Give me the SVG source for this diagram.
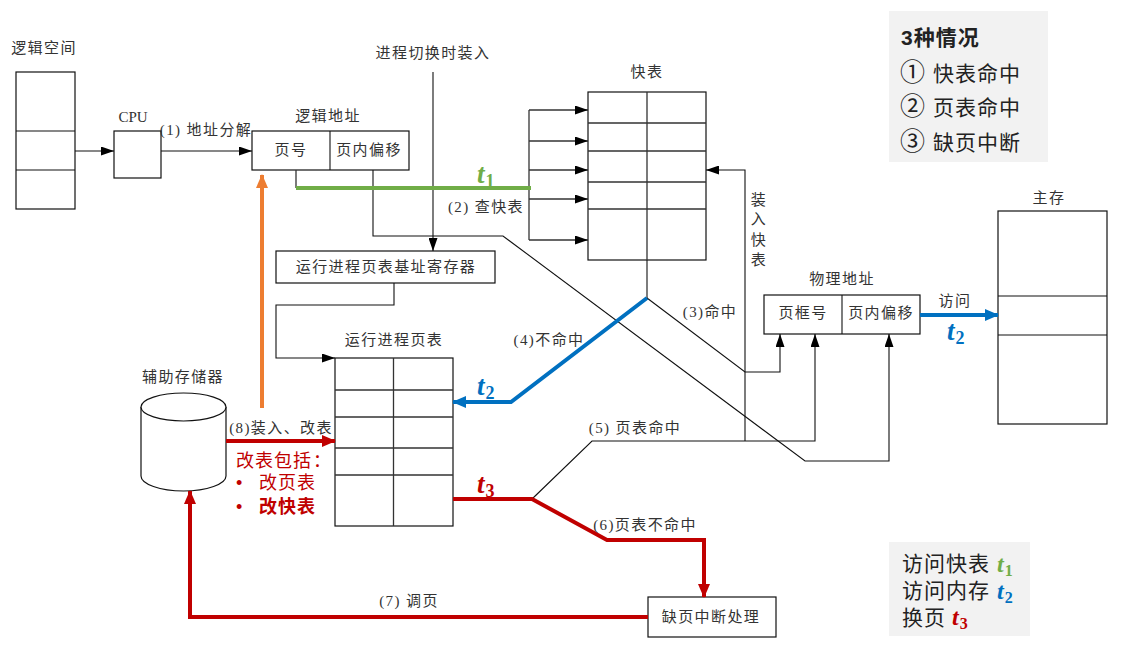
<svg xmlns="http://www.w3.org/2000/svg" width="1122" height="646" viewBox="0 0 1122 646">
<style>
text{font-family:"Liberation Serif","Noto Sans CJK SC",serif;font-size:15px;letter-spacing:1.400px;fill:#333;text-anchor:middle}
.box{fill:#fff;stroke:#111;stroke-width:1.2}
.ln{fill:none;stroke:#111;stroke-width:1.1}
.gr{fill:none;stroke:#333;stroke-width:1.3}
.ar{marker-end:url(#a)}
.pan{fill:#f2f2f2}
.big{font-family:"Liberation Sans","Noto Sans CJK SC",sans-serif;font-size:21px;letter-spacing:1px;text-anchor:start;fill:#222}
.num{font-size:25px;letter-spacing:0}
.red{font-family:"Liberation Sans","Noto Sans CJK SC",sans-serif;font-size:18px;letter-spacing:1px;text-anchor:start;fill:#c00000}
.t{font-style:italic;font-weight:bold;font-size:27px;letter-spacing:0;text-anchor:start}
.s{font-size:18px;font-style:normal}
.sg{font-size:16px;font-style:normal}
</style>
<defs>
<marker id="a" markerUnits="userSpaceOnUse" markerWidth="13" markerHeight="9" refX="13" refY="4.500" orient="auto"><path d="M0 0L13 4.500L0 9Z" fill="#000"/></marker>
<marker id="r" markerUnits="userSpaceOnUse" markerWidth="14" markerHeight="12" refX="13" refY="6" orient="auto"><path d="M0 0L14 6L0 12Z" fill="#c00000"/></marker>
<marker id="b" markerUnits="userSpaceOnUse" markerWidth="14" markerHeight="12" refX="13" refY="6" orient="auto"><path d="M0 0L14 6L0 12Z" fill="#0070c0"/></marker>
<marker id="o" markerUnits="userSpaceOnUse" markerWidth="14" markerHeight="12" refX="13" refY="6" orient="auto"><path d="M0 0L14 6L0 12Z" fill="#ed7d31"/></marker>
</defs>

<g id="logical-space"><text x="44" y="53">逻辑空间</text><rect class="box" x="16" y="72" width="59" height="137"/><path class="ln" d="M16 131H75M16 170H75"/></g>
<g id="cpu"><text x="133" y="122" style="letter-spacing:0">CPU</text><rect class="box" x="114" y="131" width="47" height="47"/></g>
<g id="logical-address"><text x="328" y="121">逻辑地址</text><rect class="box" x="252" y="131" width="157" height="39"/><path class="ln" d="M330 131V170"/><text x="291" y="155">页号</text><text x="369" y="155">页内偏移</text></g>
<g id="tlb"><text x="647" y="77">快表</text><rect class="box" x="588" y="92" width="118" height="168"/><path class="gr" d="M647 92V260M588 123H706M588 151H706M588 182H706M588 209H706"/></g>
<g id="base-register"><rect class="box" x="276" y="251" width="219" height="32"/><text x="386" y="272">运行进程页表基址寄存器</text></g>
<g id="page-table"><text x="394" y="345">运行进程页表</text><rect class="box" x="335" y="358" width="118" height="168"/><path class="gr" d="M393.500 358V526M335 390H453M335 417H453M335 448H453M335 475H453"/></g>
<g id="aux-storage"><text x="183" y="382">辅助存储器</text><path class="box" d="M141 407V476C141 484 160 491 183.500 491S226 484 226 476V407"/><ellipse class="box" cx="183.500" cy="407" rx="42.500" ry="14"/></g>
<g id="physical-address"><text x="842" y="284">物理地址</text><rect class="box" x="764" y="295" width="156" height="39"/><path class="ln" d="M842 295V334"/><text x="803" y="318">页框号</text><text x="881" y="318">页内偏移</text></g>
<g id="main-memory"><text x="1049" y="203">主存</text><rect class="box" x="998" y="211" width="109" height="213"/><path class="ln" d="M998 296H1107M998 335H1107"/></g>
<g id="page-fault"><rect class="box" x="648" y="597" width="128" height="40"/><text x="711" y="622">缺页中断处理</text></g>

<g id="connectors">
<path class="ln ar" d="M75 151H114"/>
<path class="ln ar" d="M161 151H252"/>
<path class="ln ar" d="M433 72V251"/>
<path class="gr" d="M296 170V188"/>
<path class="gr" d="M529 110V240"/>
<path class="gr ar" d="M529 110H588"/><path class="gr ar" d="M529 141H588"/><path class="gr ar" d="M529 170H588"/><path class="gr ar" d="M529 199H588"/><path class="gr ar" d="M529 240H588"/>
<path class="ln ar" d="M373 170V236H503L805 461H889V334"/>
<path class="ln ar" d="M394 283V305H276V358H335"/>
<path class="ln" d="M647 260V298"/>
<path class="ln ar" d="M647 298L745 372H780V334"/>
<path class="ln ar" d="M745 441V170H706"/>
<path class="ln ar" d="M532 499L592 441H815V334"/>
<path d="M296 188H531" fill="none" stroke="#70ad47" stroke-width="4"/>
<path d="M262 408V175" fill="none" stroke="#ed7d31" stroke-width="4" marker-end="url(#o)"/>
<path d="M647 298L511 402H453" fill="none" stroke="#0070c0" stroke-width="4" marker-end="url(#b)"/>
<path d="M920 315H998" fill="none" stroke="#0070c0" stroke-width="4" marker-end="url(#b)"/>
<path d="M226 441H335" fill="none" stroke="#c00000" stroke-width="4" marker-end="url(#r)"/>
<path d="M453 499H532L607 540H704V597" fill="none" stroke="#c00000" stroke-width="4" marker-end="url(#r)"/>
<path d="M648 617H190V491" fill="none" stroke="#c00000" stroke-width="4" marker-end="url(#r)"/>
</g>

<g id="labels">
<text x="433" y="58">进程切换时装入</text>
<text x="206" y="135">(1) 地址分解</text>
<text x="486" y="212">(2) 查快表</text>
<text x="710" y="317">(3)命中</text>
<text x="549" y="345">(4)不命中</text>
<text x="635" y="433">(5) 页表命中</text>
<text x="645" y="530">(6)页表不命中</text>
<text x="409" y="606">(7) 调页</text>
<text x="281" y="433">(8)装入、改表</text>
<text x="955" y="306">访问</text>
<text x="759" y="205">装</text><text x="759" y="224">入</text><text x="759" y="245">快</text><text x="759" y="265">表</text>
<text class="t" x="477" y="183" style="fill:#70ad47">t<tspan class="s" dx="1" dy="4">1</tspan></text>
<text class="t" x="477" y="395" style="fill:#0070c0">t<tspan class="s" dx="1" dy="4">2</tspan></text>
<text class="t" x="947" y="340" style="fill:#0070c0">t<tspan class="s" dx="1" dy="4">2</tspan></text>
<text class="t" x="477" y="493" style="fill:#c00000">t<tspan class="s" dx="1" dy="4">3</tspan></text>
<text class="red" x="236" y="467">改表包括<tspan x="313">：</tspan></text>
<text class="red" x="236" y="489">•</text><text class="red" x="259" y="489">改页表</text>
<text class="red" x="236" y="513">•</text><text class="red" x="259" y="513" font-weight="bold">改快表</text>
</g>

<g id="legend-cases"><rect class="pan" x="889" y="11" width="159" height="151"/>
<text class="big" x="901" y="45" font-weight="bold">3种情况</text>
<text class="big" x="900" y="81"><tspan class="num">①</tspan><tspan x="933">快表命中</tspan></text>
<text class="big" x="900" y="115"><tspan class="num">②</tspan><tspan x="933">页表命中</tspan></text>
<text class="big" x="900" y="150"><tspan class="num">③</tspan><tspan x="933">缺页中断</tspan></text></g>
<g id="legend-times"><rect class="pan" x="889" y="542" width="141" height="94"/>
<text class="big" x="902" y="571">访问快表</text><text class="t" x="997" y="572" style="fill:#70ad47;font-size:24px">t<tspan class="sg" dx="1" dy="4">1</tspan></text>
<text class="big" x="902" y="598">访问内存</text><text class="t" x="997" y="599" style="fill:#0070c0;font-size:24px">t<tspan class="sg" dx="1" dy="4">2</tspan></text>
<text class="big" x="902" y="625">换页</text><text class="t" x="952" y="625" style="fill:#c00000;font-size:24px">t<tspan class="sg" dx="1" dy="4">3</tspan></text></g>
</svg>
